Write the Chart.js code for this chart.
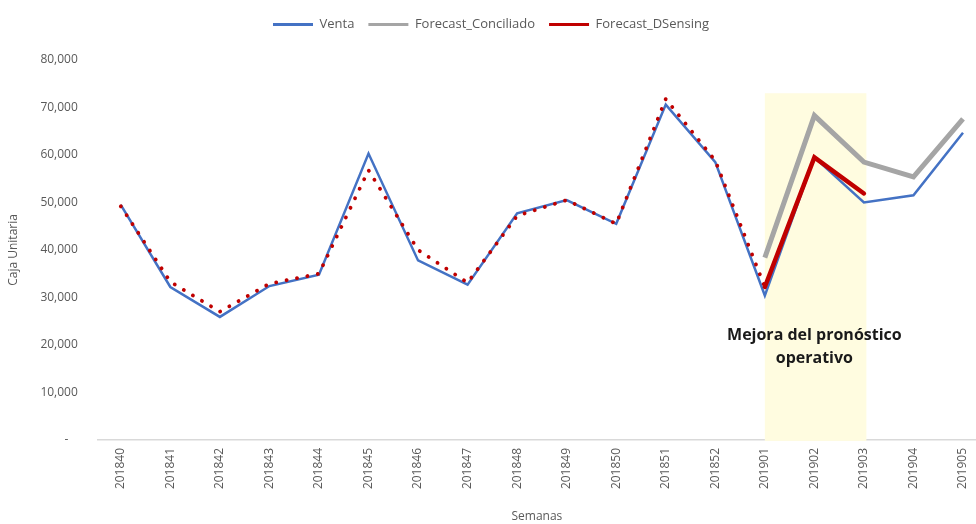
<!DOCTYPE html>
<html>
<head>
<meta charset="utf-8">
<script src="https://cdn.jsdelivr.net/npm/chart.js@4/dist/chart.umd.min.js"></script>
<style>
  html, body { margin: 0; padding: 0; background: #ffffff; }
  #wrap { width: 976px; height: 524px; }
</style>
</head>
<body>
<div id="wrap"><canvas id="c" width="976" height="524"></canvas></div>
<script>
// Weekly categories (year + week number)
const semanas = ['201840','201841','201842','201843','201844','201845','201846','201847','201848',
                 '201849','201850','201851','201852','201901','201902','201903','201904','201905'];

// Actual sales
const venta = [49500, 32200, 25900, 32400, 34800, 60300, 37800, 32700, 47700,
               50500, 45500, 70600, 58500, 30400, 59500, 50000, 51500, 64700];

// Reconciled forecast (only for 2019 weeks)
const forecastConciliado = [null, null, null, null, null, null, null, null, null,
                            null, null, null, null, 38400, 68300, 58500, 55400, 67600];

// Demand-sensing forecast (back-test dotted, live weeks solid)
const forecastDSensing = [49200, 33300, 27000, 32900, 35000, 56800, 40000, 33100, 47200,
                          50500, 45500, 71800, 58800, 32200, 59500, 51900, null, null];

// Y tick values
const yTicks = [0, 10000, 20000, 30000, 40000, 50000, 60000, 70000, 80000];

// Highlighted weeks and their note
const bandFrom = 13, bandTo = 15.05, bandTop = 73000;
const noteLines = ['Mejora del pronóstico', 'operativo'];
const noteAt = { x: 14, y: 22100 };

const LIVE_START = 13; // first week of the live demand-sensing forecast

// Extra room between the legend and the plot
const legendGap = {
  id: 'legendGap',
  beforeInit(chart) {
    const fit = chart.legend.fit;
    chart.legend.fit = function () {
      fit.call(this);
      this.height += 19;
    };
  }
};

const highlightPlugin = {
  id: 'highlight',
  beforeDatasetsDraw(chart) {
    const { ctx, scales: { x, y } } = chart;
    const x0 = x.getPixelForValue(bandFrom), x1 = x.getPixelForValue(bandTo);
    const y0 = y.getPixelForValue(bandTop), y1 = y.getPixelForValue(0);
    ctx.save();
    ctx.fillStyle = '#FFFCE0';
    ctx.fillRect(x0, y0, x1 - x0, y1 - y0 + 1);
    ctx.restore();
  },
  afterDatasetsDraw(chart) {
    const { ctx, scales: { x, y } } = chart;
    const cx = x.getPixelForValue(noteAt.x);
    const cy = y.getPixelForValue(noteAt.y);
    ctx.save();
    ctx.fillStyle = '#1a1a1a';
    ctx.font = 'bold 16px "Open Sans", sans-serif';
    ctx.textAlign = 'center';
    ctx.textBaseline = 'middle';
    noteLines.forEach((t, i) => ctx.fillText(t, cx, cy + i * 23));
    ctx.restore();
  }
};

new Chart(document.getElementById('c'), {
  type: 'line',
  data: {
    labels: semanas,
    datasets: [
      {
        label: 'Venta',
        data: venta.map((v, i) => ({ x: i, y: v })),
        borderColor: '#4472C4',
        backgroundColor: '#4472C4',
        borderWidth: 2.5,
        pointRadius: 0,
        tension: 0,
        order: 3
      },
      {
        label: 'Forecast_Conciliado',
        data: forecastConciliado.map((v, i) => ({ x: i, y: v })),
        borderColor: '#A5A5A5',
        backgroundColor: '#A5A5A5',
        borderWidth: 5,
        pointRadius: 0,
        tension: 0,
        spanGaps: false,
        order: 2
      },
      {
        label: 'Forecast_DSensing',
        data: forecastDSensing.map((v, i) => ({ x: i, y: v })),
        borderColor: '#C00000',
        backgroundColor: '#C00000',
        borderWidth: 4.5,
        borderCapStyle: 'round',
        pointRadius: 0,
        tension: 0,
        order: 1,
        segment: {
          borderDash: ctx => ctx.p0DataIndex < LIVE_START ? [0.1, 10.5] : [],
          borderWidth: ctx => ctx.p0DataIndex < LIVE_START ? 3.8 : 4.5
        }
      }
    ]
  },
  options: {
    responsive: false,
    animation: false,
    layout: { padding: { top: 4, right: 0, bottom: 0, left: 6 } },
    plugins: {
      tooltip: { enabled: false },
      legend: {
        position: 'top',
        align: 'center',
        labels: {
          color: '#595959',
          font: { family: '"Open Sans", sans-serif', size: 13 },
          boxWidth: 40,
          boxHeight: 3,
          padding: 14,
          generateLabels(chart) {
            return chart.data.datasets.map((ds, i) => ({
              text: ds.label,
              fillStyle: ds.borderColor,
              strokeStyle: ds.borderColor,
              lineWidth: 0,
              hidden: false,
              datasetIndex: i,
              fontColor: '#595959'
            }));
          }
        }
      }
    },
    scales: {
      x: {
        type: 'linear',
        min: -0.464,
        max: 17.262,
        afterBuildTicks(scale) {
          scale.ticks = semanas.map((_, i) => ({ value: i }));
        },
        ticks: {
          color: '#595959',
          font: { family: '"Open Sans", sans-serif', size: 12, lineHeight: 1 },
          maxRotation: 90,
          minRotation: 90,
          autoSkip: false,
          padding: 1,
          callback: (v) => semanas[v]
        },
        grid: {
          display: true,
          drawOnChartArea: false,
          drawTicks: true,
          tickLength: 7,
          color: 'rgba(0,0,0,0)'
        },
        border: { display: true, color: '#D9D9D9', width: 1.5 },
        title: {
          display: true,
          text: 'Semanas',
          color: '#595959',
          font: { family: '"Open Sans", sans-serif', size: 12 },
          padding: { top: 19.5, bottom: 0 }
        }
      },
      y: {
        min: 0,
        max: 80000,
        afterBuildTicks(scale) {
          scale.ticks = yTicks.map(v => ({ value: v }));
        },
        ticks: {
          color: '#595959',
          font: { family: '"Open Sans", sans-serif', size: 12 },
          padding: 20,
          callback: v => v === 0 ? '-   ' : v.toLocaleString('en-US')
        },
        grid: { display: false, drawTicks: false },
        border: { display: false },
        title: {
          display: true,
          text: 'Caja Unitaria',
          color: '#595959',
          font: { family: '"Open Sans", sans-serif', size: 12 },
          padding: { top: 0, bottom: 0 }
        }
      }
    }
  },
  plugins: [legendGap, highlightPlugin]
});
</script>
</body>
</html>
